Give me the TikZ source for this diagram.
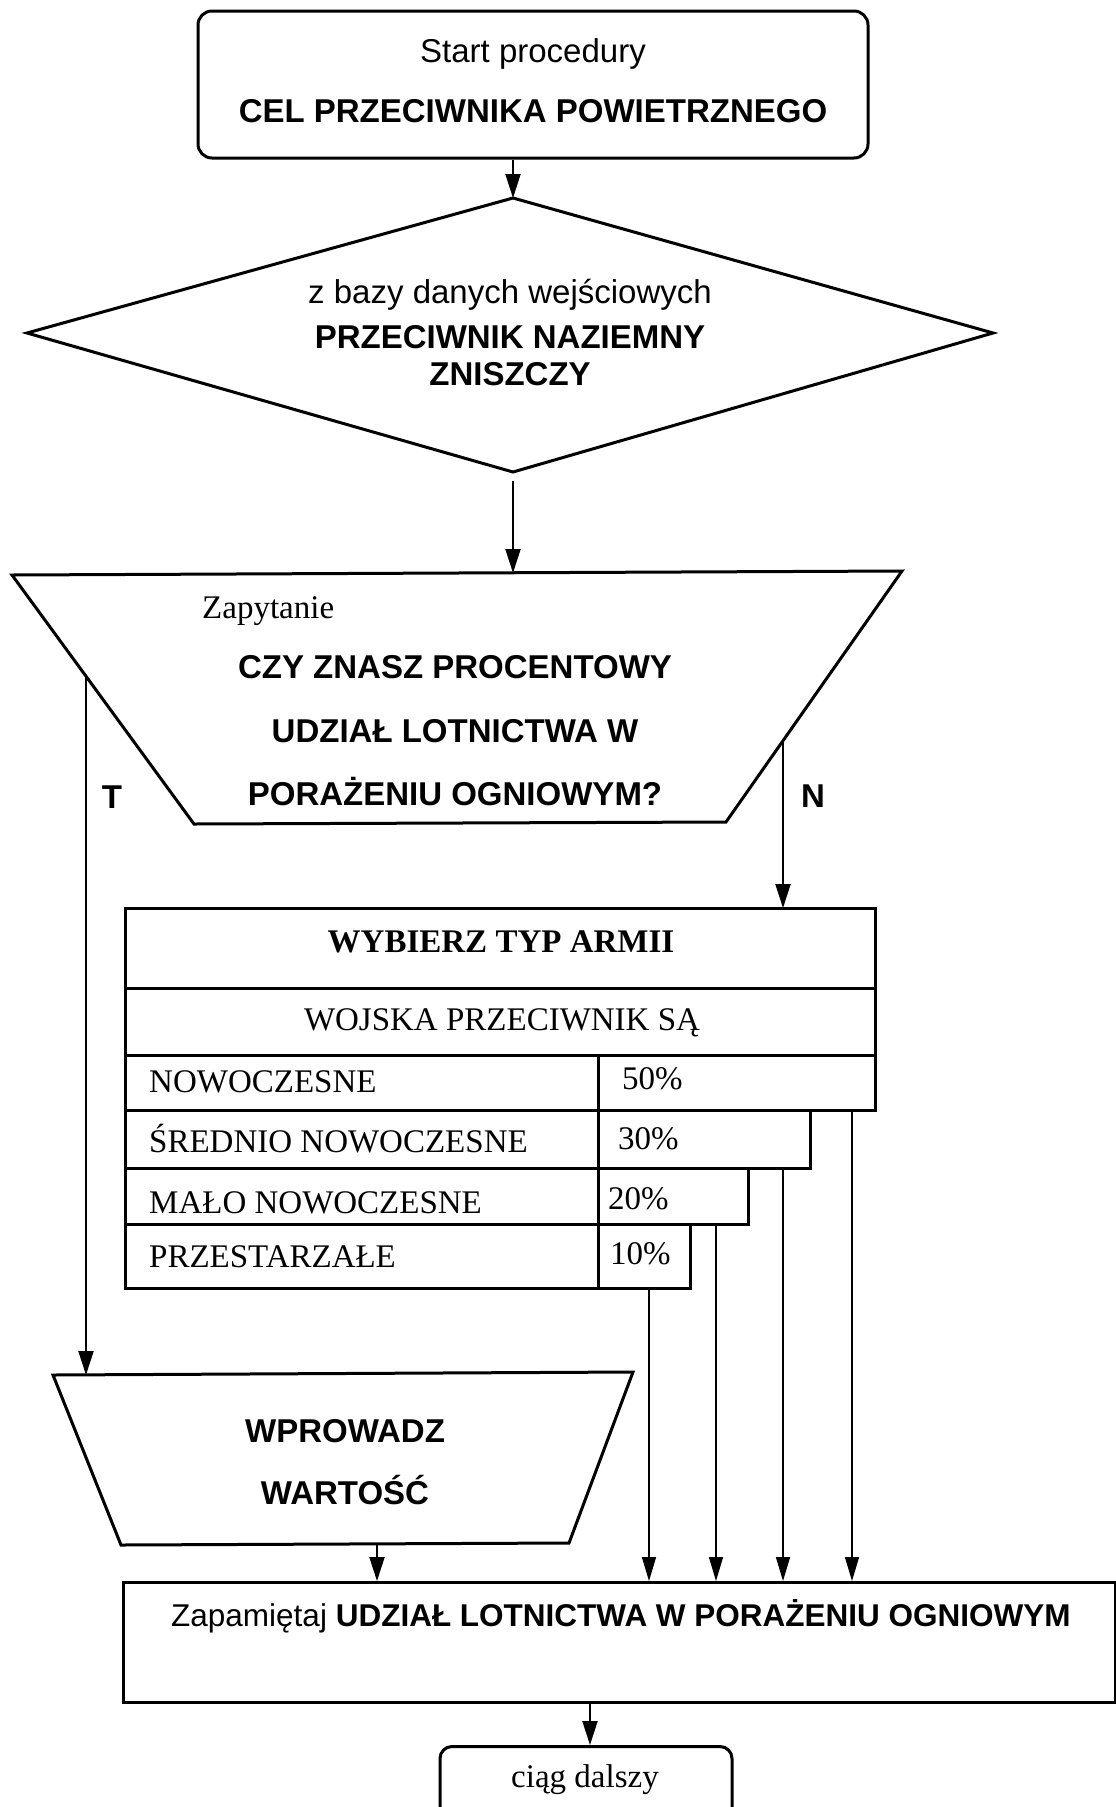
\documentclass[tikz,border=0pt]{standalone}
\usepackage{fontspec}
\setmainfont{Liberation Serif}
\setsansfont{Liberation Sans}
\usetikzlibrary{arrows.meta}
\begin{document}
\begin{tikzpicture}[x=1pt,y=-1pt,
  shapeline/.style={draw, line width=3pt, line join=miter},
  conn/.style={line width=2pt, -{Triangle[length=24pt,width=15pt]}},
  fine/.style={line width=1.5pt, -{Triangle[length=24pt,width=14pt]}},
  sans/.style={font=\fontsize{33}{40}\selectfont\sffamily, inner sep=0pt, anchor=base},
  sansb/.style={font=\fontsize{33}{40}\selectfont\sffamily\bfseries, inner sep=0pt, anchor=base},
  serif/.style={font=\fontsize{33}{40}\selectfont\rmfamily, inner sep=0pt, anchor=base},
  serifb/.style={font=\fontsize{33}{40}\selectfont\rmfamily\bfseries, inner sep=0pt, anchor=base},
  rowbox/.style={shapeline, inner sep=0pt, outer sep=0pt, anchor=north west},
]
\fill[white] (0,0) rectangle (1116,1807);
\useasboundingbox (0,0) rectangle (1116,1807);

% start box
\node[shapeline, rounded corners=14pt, minimum width=670pt, minimum height=147pt, inner sep=0pt] (start) at (533,84.5) {};
\node[sans] (startA) at (533,62) {Start procedury};
\node[sansb] (startB) at (533,122) {CEL PRZECIWNIKA POWIETRZNEGO};

% diamond
\coordinate (dN) at (513,198);
\coordinate (dE) at (993,333);
\coordinate (dS) at (513,472);
\coordinate (dW) at (27,333);
\draw[shapeline] (dN) -- (dE) -- (dS) -- (dW) -- cycle;
\node[sans] (dA) at (510,303) {z bazy danych wejściowych};
\node[sansb] (dB) at (510,348) {PRZECIWNIK NAZIEMNY};
\node[sansb] (dC) at (510,385) {ZNISZCZY};
\draw[conn] (start.south -| dN) -- (dN);

% question trapezoid
\coordinate (qTL) at (12,575);
\coordinate (qTR) at (902,571);
\coordinate (qBR) at (726,822);
\coordinate (qBL) at (194,824);
\coordinate (qN) at (513,573);
\draw[shapeline] (qTL) -- (qTR) -- (qBR) -- (qBL) -- cycle;
\draw[conn, shorten <=9pt] (dS) -- (qN);
\node[serif, anchor=base west] (qA) at (202,618) {Zapytanie};
\node[sansb] (qB) at (455,678) {CZY ZNASZ PROCENTOWY};
\node[sansb] (qC) at (455,742) {UDZIAŁ LOTNICTWA W};
\node[sansb] (qD) at (455,805) {PORAŻENIU OGNIOWYM?};

% T / N labels
\node[sansb] (labT) at (112,808) {T};
\node[sansb] (labN) at (813,807) {N};

% table
\node[rowbox, minimum width=750pt, minimum height=80pt] (head) at (125,908) {};
\node[rowbox, minimum width=750pt, minimum height=67pt] (sub) at (125,988) {};
\node[rowbox, minimum width=750pt, minimum height=55pt] (r1) at (125,1055) {};
\node[rowbox, minimum width=685pt, minimum height=58pt] (r2) at (125,1110) {};
\node[rowbox, minimum width=623pt, minimum height=56pt] (r3) at (125,1168) {};
\node[rowbox, minimum width=565pt, minimum height=64pt] (r4) at (125,1224) {};
\draw[shapeline] (r1.north west -| 598,0) -- (r4.south west -| 598,0);
\node[serifb] (headT) at (501,952) {WYBIERZ TYP ARMII};
\node[serif] (subT) at (502,1030) {WOJSKA PRZECIWNIK SĄ};
\node[serif, anchor=base west] (r1a) at (149,1092) {NOWOCZESNE};
\node[serif, anchor=base west] (r2a) at (149,1152) {ŚREDNIO NOWOCZESNE};
\node[serif, anchor=base west] (r3a) at (149,1213) {MAŁO NOWOCZESNE};
\node[serif, anchor=base west] (r4a) at (149,1267) {PRZESTARZAŁE};
\node[serif, anchor=base west] (r1b) at (622,1089) {50\%};
\node[serif, anchor=base west] (r2b) at (618,1149) {30\%};
\node[serif, anchor=base west] (r3b) at (608,1209) {20\%};
\node[serif, anchor=base west] (r4b) at (610,1264) {10\%};

% N arrow
\coordinate (nS) at (783,741);
\draw[conn] (nS) -- (nS |- head.north);

% WPROWADZ trapezoid
\coordinate (wTL) at (53,1375);
\coordinate (wTR) at (633,1372);
\coordinate (wBR) at (569,1543);
\coordinate (wBL) at (121,1545);
\draw[shapeline] (wTL) -- (wTR) -- (wBR) -- (wBL) -- cycle;
\node[sansb] (wA) at (345,1442) {WPROWADZ};
\node[sansb] (wB) at (345,1504) {WARTOŚĆ};

% T arrow
\coordinate (tS) at (86,676);
\coordinate (wN) at (86,1375);
\draw[conn] (tS) -- (wN);

% Zapamietaj box
\node[shapeline, minimum width=992pt, minimum height=120pt, anchor=north west, inner sep=0pt] (zap) at (122,1581) {};
\node[font=\fontsize{31.5}{40}\selectfont\sffamily, inner sep=0pt, anchor=base west] (zapT) at (171,1626) {Zapamiętaj \textbf{UDZIAŁ LOTNICTWA W PORAŻENIU OGNIOWYM}};

\coordinate (wS) at (377,1544);
\draw[conn] (wS) -- (wS |- zap.north);
\coordinate (v1) at (852,1110);
\coordinate (v2) at (783,1168);
\coordinate (v3) at (716,1224);
\coordinate (v4) at (649,1288);
\draw[fine] (v1) -- (v1 |- zap.north);
\draw[fine] (v2) -- (v2 |- zap.north);
\draw[fine] (v3) -- (v3 |- zap.north);
\draw[fine] (v4) -- (v4 |- zap.north);

% continuation
\node[shapeline, rounded corners=12pt, minimum width=292pt, minimum height=120pt, anchor=north, inner sep=0pt] (cont) at (586,1745) {};
\node[serif] (contT) at (585,1787) {ciąg dalszy};
\coordinate (cN) at (590,1745);
\draw[conn] (zap.south -| cN) -- (cN);
\end{tikzpicture}
\end{document}
